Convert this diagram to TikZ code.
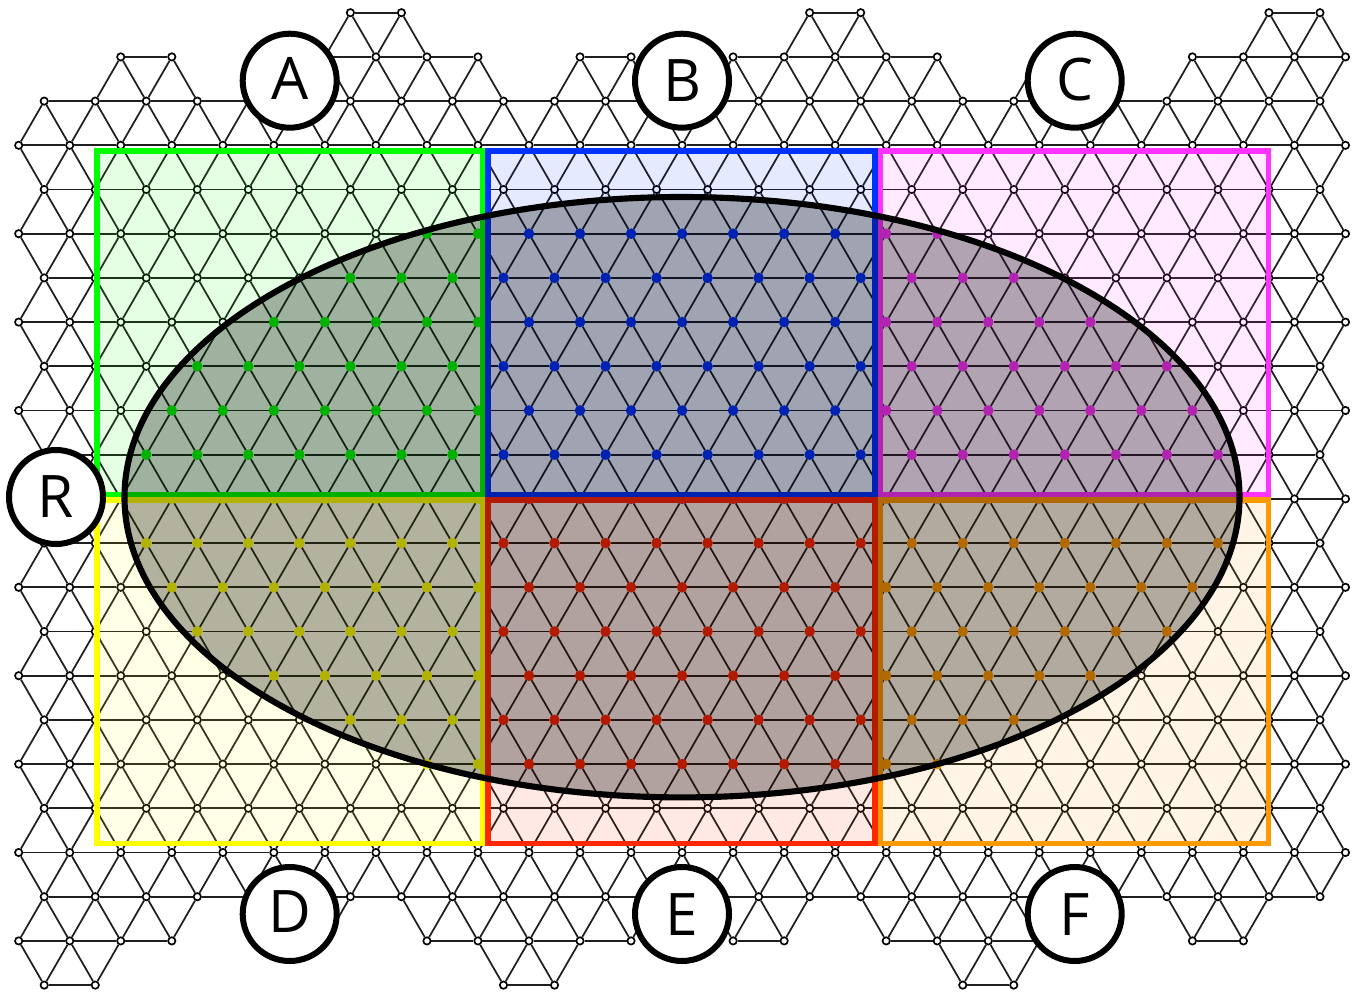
\documentclass[tikz,border=0pt]{standalone}
\usepackage{fontspec}
\setmainfont{Open Sans}
\definecolor{colA}{RGB}{0,255,0}
\definecolor{colB}{RGB}{0,50,255}
\definecolor{colC}{RGB}{255,51,255}
\definecolor{colD}{RGB}{255,255,0}
\definecolor{colE}{RGB}{255,40,0}
\definecolor{colF}{RGB}{255,153,0}
\tikzset{
  latnode/.style={circle,inner sep=0pt,line width=1.25pt},
  latedge/.style={line width=1.3pt,draw=black!88},
  regionbox/.style={line width=4.2pt,draw=#1,fill=#1,fill opacity=.10},
  bigell/.style={line width=4.6pt,draw=black,fill=black,fill opacity=.30},
  letter/.style={circle,draw=black,fill=white,line width=4.5pt,inner sep=0pt,
    minimum size=70.5pt,font=\fontsize{44}{44}\selectfont,text height=31.5pt,text depth=0pt},
}
\def\fullev{1,3,5,7,9,11,13,15,17,19,21,23,25,27,29,31,33,35,37,39,41,43,45,47,49,51}
\def\fullod{0,2,4,6,8,10,12,14,16,18,20,22,24,26,28,30,32,34,36,38,40,42,44,46,48,50,52}
\begin{document}
\begin{tikzpicture}[x=.75pt,y=-.75pt]
\useasboundingbox (0,0) rectangle (1360,992);
\fill[white] (0,0) rectangle (1360,992);
\edef\rowdata{0/{13,15,31,33,49,51},
 1/{4,6,12,14,16,18,22,24,28,30,32,34,36,40,46,48,50,52},
 2/{\fullev},3/{\fullod},4/{\fullev},5/{\fullod},6/{\fullev},7/{\fullod},8/{\fullev},9/{\fullod},
 10/{\fullev},11/{\fullod},12/{\fullev},13/{\fullod},14/{\fullev},15/{\fullod},16/{\fullev},17/{\fullod},
 18/{\fullev},19/{\fullod},20/{\fullev},
 21/{0,2,4,6,12,16,18,20,22,24,28,30,34,36,38,40,46,48},
 22/{1,3,19,21,37,39}}
% lattice nodes
\foreach \rr/\ll in \rowdata {
  \foreach \cc in \ll {
    \expandafter\gdef\csname ex\rr-\cc\endcsname{}
    \pgfmathsetmacro\xx{18.7+25.515*\cc}
    \pgfmathsetmacro\yy{12.7+44.2*\rr}
    \pgfmathtruncatemacro\ins{(((\xx-682)/557.5)^2+((\yy-497.2)/300.2)^2<1.002)?1:0}
    \ifnum\ins=1
      \ifdim\xx pt<485.7pt
        \ifdim\yy pt<497pt \def\fc{colA}\else \def\fc{colD}\fi
      \else\ifdim\xx pt<878pt
        \ifdim\yy pt<497pt \def\fc{colB}\else \def\fc{colE}\fi
      \else
        \ifdim\yy pt<497pt \def\fc{colC}\else \def\fc{colF}\fi
      \fi\fi
      \node[latnode,fill=\fc,draw=\fc,minimum size=6.6pt] (n-\rr-\cc) at (\xx,\yy) {};
    \else
      \node[latnode,fill=white,draw=black,minimum size=5.5pt] (n-\rr-\cc) at (\xx,\yy) {};
    \fi
  }
}
% lattice edges
\foreach \rr/\ll in \rowdata {
  \foreach \cc in \ll {
    \pgfmathtruncatemacro\cr{\cc+2}
    \pgfmathtruncatemacro\dl{\cc-1}
    \pgfmathtruncatemacro\dr{\cc+1}
    \pgfmathtruncatemacro\rn{\rr+1}
    \ifcsname ex\rr-\cr\endcsname \draw[latedge] (n-\rr-\cc) -- (n-\rr-\cr); \fi
    \ifcsname ex\rn-\dl\endcsname \draw[latedge] (n-\rr-\cc) -- (n-\rn-\dl); \fi
    \ifcsname ex\rn-\dr\endcsname \draw[latedge] (n-\rr-\cc) -- (n-\rn-\dr); \fi
  }
}
% regions
\draw[regionbox=colA] (97,150.8) rectangle (483,494.5);
\draw[regionbox=colB] (488.2,150.8) rectangle (875.2,494.5);
\draw[regionbox=colC] (880.3,150.8) rectangle (1268.5,494.5);
\draw[regionbox=colD] (97,500) rectangle (483,843.3);
\draw[regionbox=colE] (488.2,500) rectangle (875.2,843.3);
\draw[regionbox=colF] (880.3,500) rectangle (1268.5,843.3);
\draw[bigell] (682,497.2) ellipse [x radius=557.5,y radius=300.2];
% labels
\node[letter] (la) at (289.7,80.7) {\raisebox{1.8pt}{A}};
\node[letter] (lb) at (682,80.7) {B};
\node[letter] (lc) at (1074.7,80.7) {\raisebox{1.1pt}{C}};
\node[letter] (ld) at (289.7,914) {\raisebox{1.7pt}{D}};
\node[letter] (le) at (682,914) {E};
\node[letter] (lf) at (1074.7,914) {F};
\node[letter] (lr) at (56,497) {\raisebox{.7pt}{R}};
\end{tikzpicture}
\end{document}
